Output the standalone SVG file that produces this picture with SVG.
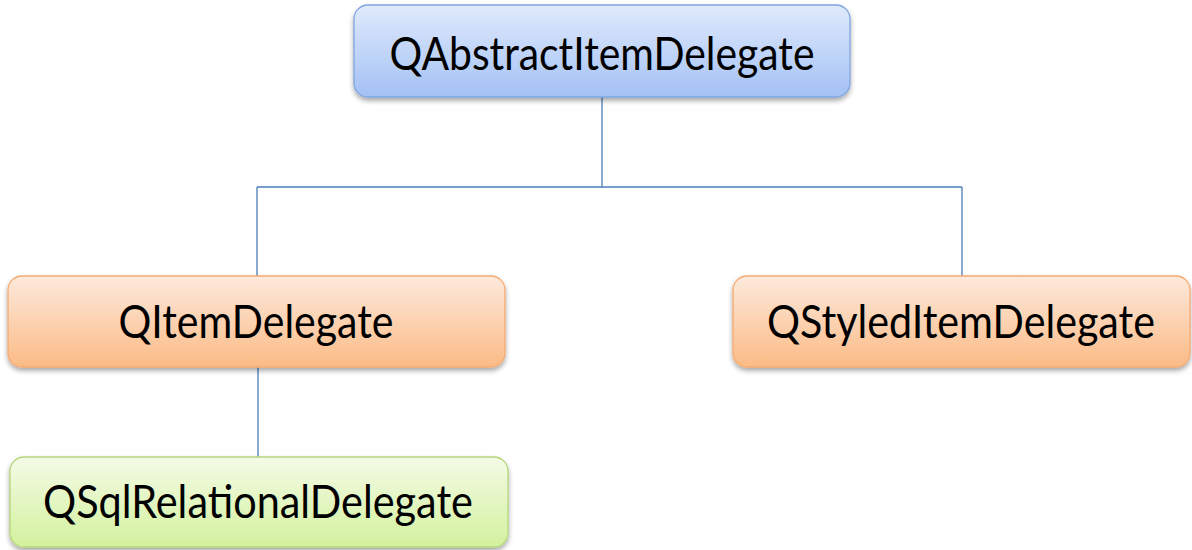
<svg xmlns="http://www.w3.org/2000/svg" width="1192" height="550" viewBox="0 0 1192 550">
<defs>
<linearGradient id="gBlue" x1="0" y1="0" x2="0" y2="1"><stop offset="0" stop-color="#e0eafc"/><stop offset="1" stop-color="#a3c1f4"/></linearGradient>
<linearGradient id="gOrange" x1="0" y1="0" x2="0" y2="1"><stop offset="0" stop-color="#fde9dc"/><stop offset="1" stop-color="#fbbb86"/></linearGradient>
<linearGradient id="gGreen" x1="0" y1="0" x2="0" y2="1"><stop offset="0" stop-color="#f4fbe6"/><stop offset="1" stop-color="#d3f19e"/></linearGradient>
<filter id="sh" x="-5%" y="-10%" width="110%" height="130%"><feDropShadow dx="0" dy="3" stdDeviation="2.5" flood-color="#000" flood-opacity="0.35"/></filter>
</defs>
<style>
text{font-family:Lato,"Liberation Sans",sans-serif;font-size:46px;fill:#000;text-anchor:middle}
.c{stroke:#4a7ebb;stroke-width:1.3;fill:none}
</style>
<rect width="1192" height="550" fill="#fff"/>
<g id="connectors">
<path class="c" d="M602 97V187M257 187H962M257 187V276M962 187V276M258 367V457"/>
</g>
<g id="n-abstract">
<rect x="354" y="5" width="496" height="92" rx="14" fill="url(#gBlue)" stroke="#7fa5df" stroke-width="1.3" filter="url(#sh)"/>
<text x="602" y="70" textLength="425" lengthAdjust="spacingAndGlyphs">QAbstractItemDelegate</text>
</g>
<g id="n-item">
<rect x="8" y="276" width="497" height="91" rx="14" fill="url(#gOrange)" stroke="#f5aa70" stroke-width="1.3" filter="url(#sh)"/>
<text x="256" y="338" textLength="275" lengthAdjust="spacingAndGlyphs">QItemDelegate</text>
</g>
<g id="n-styled">
<rect x="733" y="276" width="457" height="91" rx="14" fill="url(#gOrange)" stroke="#f5aa70" stroke-width="1.3" filter="url(#sh)"/>
<text x="961" y="338" textLength="388" lengthAdjust="spacingAndGlyphs">QStyledItemDelegate</text>
</g>
<g id="n-sql">
<rect x="10" y="457" width="498" height="90" rx="14" fill="url(#gGreen)" stroke="#b6d67c" stroke-width="1.3" filter="url(#sh)"/>
<text x="258" y="518" textLength="430" lengthAdjust="spacingAndGlyphs">QSqlRelationalDelegate</text>
</g>
</svg>
